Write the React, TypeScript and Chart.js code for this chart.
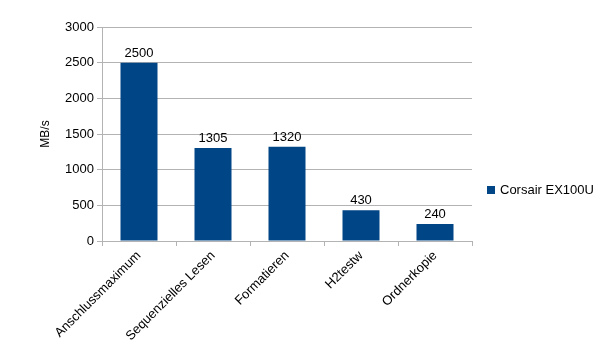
import React, { useEffect, useRef } from "react";
import { Chart, registerables } from "chart.js";

Chart.register(...registerables);

const categories = ["Anschlussmaximum", "Sequenzielles Lesen", "Formatieren", "H2testw", "Ordnerkopie"];
const seriesName = "Corsair EX100U";
const values = [2500, 1305, 1320, 430, 240];
const yTicks = [0, 500, 1000, 1500, 2000, 2500, 3000];
const yTitle = "MB/s";

const barColor = "#004586";
const gridColor = "#b3b3b3";
const FONT = "'Liberation Sans', Arial, sans-serif";

export default function App() {
  const ref = useRef<HTMLCanvasElement>(null);
  useEffect(() => {
    if (!ref.current) return;
    const valueLabels = {
      id: "valueLabels",
      afterDatasetsDraw(chart: any) {
        const ctx = chart.ctx;
        const meta = chart.getDatasetMeta(0);
        ctx.save();
        ctx.fillStyle = "#000";
        ctx.font = `13px ${FONT}`;
        ctx.textAlign = "center";
        ctx.textBaseline = "bottom";
        meta.data.forEach((el: any, i: number) => {
          ctx.fillText(String(values[i]), el.x, el.y - 3);
        });
        ctx.restore();
      },
    };
    const customLegend = {
      id: "customLegend",
      afterDraw(chart: any) {
        const ctx = chart.ctx;
        const ca = chart.chartArea;
        const x = ca.right + 15;
        const y = 190;
        ctx.save();
        ctx.fillStyle = barColor;
        ctx.fillRect(x, y - 4, 8, 8);
        ctx.fillStyle = "#000";
        ctx.font = `13px ${FONT}`;
        ctx.textAlign = "left";
        ctx.textBaseline = "middle";
        ctx.fillText(seriesName, x + 13, y);
        ctx.restore();
      },
    };
    const chart = new Chart(ref.current, {
      type: "bar",
      data: {
        labels: categories,
        datasets: [
          {
            label: seriesName,
            data: values,
            backgroundColor: barColor,
            barPercentage: 1,
            categoryPercentage: 0.5,
          },
        ],
      },
      options: {
        animation: false,
        responsive: false,
        maintainAspectRatio: false,
        layout: { padding: { top: 27, right: 133, left: 38, bottom: 0 } },
        plugins: {
          legend: { display: false },
          tooltip: { enabled: false },
        },
        scales: {
          x: {
            grid: {
              drawOnChartArea: false,
              drawTicks: true,
              tickLength: 5,
              color: gridColor,
              offset: true,
            },
            border: { color: gridColor },
            ticks: {
              color: "#000",
              font: { family: FONT, size: 13 },
              maxRotation: 45,
              minRotation: 45,
              autoSkip: false,
              padding: 2,
            },
            afterFit(scale: any) {
              scale.height = 119;
            },
          },
          y: {
            min: 0,
            max: 3000,
            afterBuildTicks(scale: any) {
              scale.ticks = yTicks.map((v) => ({ value: v }));
            },
            grid: { color: gridColor, tickLength: 5, drawTicks: true },
            border: { color: gridColor },
            ticks: {
              color: "#000",
              font: { family: FONT, size: 13 },
              padding: 3,
              callback: (v: any) => String(v),
            },
            title: {
              display: true,
              text: yTitle,
              color: "#000",
              font: { family: FONT, size: 12 },
              padding: { top: 0, bottom: 0 },
            },
            afterFit(scale: any) {
              scale.width = 64;
            },
          },
        },
      },
      plugins: [valueLabels, customLegend],
    } as any);
    return () => chart.destroy();
  }, []);
  return (
    <div style={{ position: "fixed", left: 0, top: 0, width: 605, height: 360, background: "#fff" }}>
      <canvas ref={ref} width={605} height={360} style={{ display: "block" }} />
    </div>
  );
}
